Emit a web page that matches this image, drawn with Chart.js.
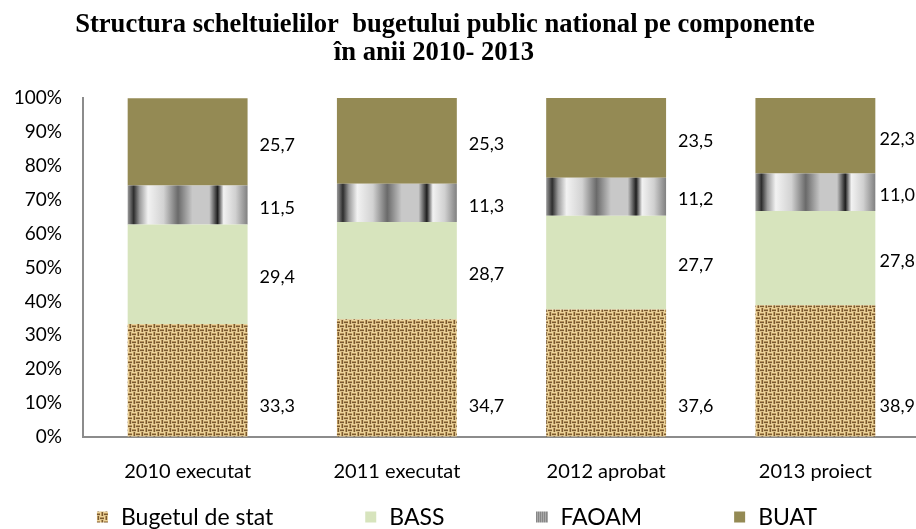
<!DOCTYPE html>
<html>
<head>
<meta charset="utf-8">
<script src="https://cdn.jsdelivr.net/npm/chart.js@4.4.0/dist/chart.umd.min.js"></script>
<style>
html, body { margin: 0; padding: 0; background: #fff; overflow: hidden; }
</style>
</head>
<body>
<canvas id="chart" width="921" height="529"></canvas>
<script>
"use strict"

// data
var years = ["2010 executat", "2011 executat", "2012 aprobat", "2013 proiect"];
var seriesNames = ["Bugetul de stat", "BASS", "FAOAM", "BUAT"];
var bugetulDeStat = [33.3, 34.7, 37.6, 38.9];
var bass = [29.4, 28.7, 27.7, 27.8];
var faoam = [11.5, 11.3, 11.2, 11.0];
var buat = [25.7, 25.3, 23.5, 22.3];
var titleLines = ["Structura scheltuielilor  bugetului public national pe componente", "în anii 2010- 2013"];

var BAR_PCT = 0.573;
var FONT = "Lato, 'Open Sans', sans-serif";

// woven texture for "Bugetul de stat"
function makeBurlap(){
    var c = document.createElement("canvas");
    c.width = 16;
    c.height = 8;
    var g = c.getContext("2d");
    var rows = ["#ecd49c", "#b8955c", "#7a5a30", "#dcc088"];
    // brick-offset weave so it doesn't read as diagonal stripes
    for (var by = 0; by < 2; by++){
        for (var bx = 0; bx < 4; bx++){
            var x0 = bx * 4, y0 = by * 4;
            var horiz = (bx + (by ? 1 : 0)) % 2 == 0;
            for (var k = 0; k < 4; k++){
                g.fillStyle = rows[k];
                if (horiz){
                    g.fillRect(x0, y0 + k, 4, 1);
                } else {
                    g.fillRect(x0 + k, y0, 1, 4);
                }
            }
        }
    }
    return g.createPattern(c, "repeat");
}

var burlap = makeBurlap();

var faoamStops = [
    [0.00, "#9a9a9a"], [0.05, "#2e2e2e"], [0.10, "#9c9c9c"], [0.17, "#f2f2f2"],
    [0.30, "#d2d2d2"], [0.42, "#6a6a6a"], [0.54, "#c8c8c8"], [0.68, "#c8c8c8"],
    [0.75, "#1e1e1e"], [0.80, "#f2f2f2"], [0.90, "#d0d0d0"], [1.00, "#808080"]
];

function faoamFill(context){
    var chart = context.chart;
    if (!chart.chartArea || context.type !== "data"){
        return "#a8a8a8";
    }
    var xs = chart.scales.x;
    var cx = xs.getPixelForValue(context.dataIndex);
    var w = xs.width / years.length * BAR_PCT;
    var grad = chart.ctx.createLinearGradient(cx - w / 2, 0, cx + w / 2, 0);
    for (var i in faoamStops){
        grad.addColorStop(faoamStops[i][0], faoamStops[i][1]);
    }
    return grad;
}

function fmt(v){
    return v.toFixed(1).replace(".", ",");
}

var titlePlugin = {
    id: "titleLines",
    afterDraw: function(chart){
        var ctx = chart.ctx;
        ctx.save();
        ctx.font = "bold 28px 'Liberation Serif', 'Times New Roman', serif";
        ctx.fillStyle = "#000";
        ctx.textAlign = "center";
        ctx.textBaseline = "alphabetic";
        ctx.scale(0.95, 1);
        ctx.fillText(titleLines[0], 445 / 0.95, 32);
        ctx.fillText(titleLines[1], 434 / 0.95, 60);
        ctx.restore();
    }
};

var valueLabels = {
    id: "valueLabels",
    afterDatasetsDraw: function(chart){
        var ctx = chart.ctx;
        ctx.save();
        ctx.font = "18px " + FONT;
        ctx.fillStyle = "#000";
        ctx.textBaseline = "middle";
        chart.data.datasets.forEach(function(ds, di){
            var meta = chart.getDatasetMeta(di);
            meta.data.forEach(function(bar, i){
                var txt = fmt(ds.data[i]);
                var y = di === 0 ? chart.scales.y.getPixelForValue(9) : (bar.y + bar.base) / 2 + 3;
                var x = bar.x + bar.width / 2 + 12;
                var tw = ctx.measureText(txt).width;
                if (x + tw > 915){
                    x = 915 - tw;
                }
                ctx.fillText(txt, x, y);
            });
        });
        ctx.restore();
    }
};

var legendPlugin = {
    id: "bottomLegend",
    afterDraw: function(chart){
        var ctx = chart.ctx;
        ctx.save();
        ctx.font = "23px " + FONT;
        ctx.textBaseline = "middle";
        var box = 11, gapText = 13, gapItem = 92, y = 517;
        var total = 0;
        var widths = [];
        for (var i in seriesNames){
            var w = box + gapText + ctx.measureText(seriesNames[i]).width;
            widths.push(w);
            total += w;
        }
        total += gapItem * (seriesNames.length - 1);
        var x = 457 - total / 2;
        for (var i = 0; i < seriesNames.length; i++){
            var ds = chart.data.datasets[i];
            var top = y - box / 2;
            if (i === 2){
                ctx.fillStyle = "#fff";
                ctx.fillRect(x, top, box, box);
                ctx.fillStyle = "#333";
                for (var k = 0; k < box; k += 2){
                    ctx.fillRect(x + k, top, 1, box);
                }
            } else {
                ctx.fillStyle = ds.backgroundColor;
                ctx.fillRect(x, top, box, box);
            }
            ctx.fillStyle = "#000";
            ctx.fillText(seriesNames[i], x + box + gapText, y + 1);
            x += widths[i] + gapItem;
        }
        ctx.restore();
    }
};

new Chart(document.getElementById("chart"), {
    type: "bar",
    data: {
        labels: years,
        datasets: [
            {label: seriesNames[0], data: bugetulDeStat, backgroundColor: burlap},
            {label: seriesNames[1], data: bass, backgroundColor: "#d7e4bd"},
            {label: seriesNames[2], data: faoam, backgroundColor: faoamFill},
            {label: seriesNames[3], data: buat, backgroundColor: "#948a54"}
        ]
    },
    options: {
        responsive: false,
        animation: false,
        devicePixelRatio: 1,
        layout: {padding: {top: 98, right: 1, bottom: 47, left: 0}},
        datasets: {bar: {barPercentage: BAR_PCT, categoryPercentage: 1, borderWidth: 0}},
        plugins: {
            legend: {display: false},
            title: {display: false},
            tooltip: {enabled: false}
        },
        scales: {
            x: {
                stacked: true,
                grid: {display: true, color: "rgba(0,0,0,0)", drawTicks: false},
                border: {display: true, color: "#8c8c8c", width: 2},
                ticks: {color: "#000", font: {family: FONT, size: 20}, padding: 23, maxRotation: 0},
                afterFit: function(s){ s.height = 45; }
            },
            y: {
                stacked: true,
                min: 0,
                max: 100,
                grid: {display: true, color: "rgba(0,0,0,0)", drawTicks: false},
                border: {display: true, color: "#8c8c8c", width: 2},
                ticks: {
                    stepSize: 10,
                    color: "#000",
                    font: {family: FONT, size: 19},
                    padding: 21,
                    callback: function(v){ return v + "%"; }
                },
                afterFit: function(s){ s.width = 83; }
            }
        }
    },
    plugins: [titlePlugin, valueLabels, legendPlugin]
});
</script>
</body>
</html>
